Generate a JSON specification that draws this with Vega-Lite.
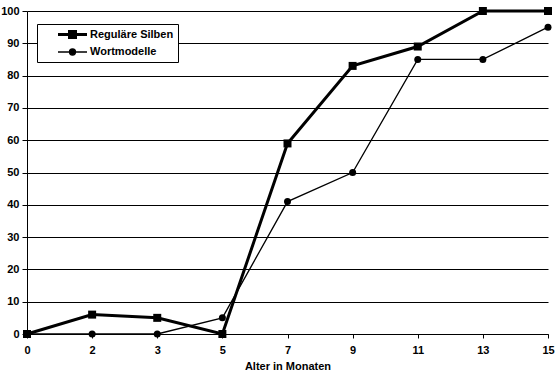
{
  "$schema": "https://vega.github.io/schema/vega-lite/v6.json",
  "width": 521,
  "height": 323,
  "padding": {"left": 0, "top": 5, "right": 4, "bottom": 0},
  "background": "white",
  "config": {
    "view": {"stroke": null},
    "font": "Liberation Sans",
    "axis": {
      "labelFont": "Liberation Sans",
      "labelFontWeight": "bold",
      "labelFontSize": 11,
      "labelColor": "black",
      "titleFont": "Liberation Sans",
      "titleFontWeight": "bold",
      "titleFontSize": 11,
      "titleColor": "black",
      "domainColor": "black",
      "tickColor": "black",
      "gridColor": "black",
      "gridOpacity": 1,
      "gridWidth": 1
    }
  },
  "data": {
    "values": [
      {"alter": 0, "series": "Reguläre Silben", "wert": 0},
      {"alter": 2, "series": "Reguläre Silben", "wert": 6},
      {"alter": 3, "series": "Reguläre Silben", "wert": 5},
      {"alter": 5, "series": "Reguläre Silben", "wert": 0},
      {"alter": 7, "series": "Reguläre Silben", "wert": 59},
      {"alter": 9, "series": "Reguläre Silben", "wert": 83},
      {"alter": 11, "series": "Reguläre Silben", "wert": 89},
      {"alter": 13, "series": "Reguläre Silben", "wert": 100},
      {"alter": 15, "series": "Reguläre Silben", "wert": 100},
      {"alter": 0, "series": "Wortmodelle", "wert": 0},
      {"alter": 2, "series": "Wortmodelle", "wert": 0},
      {"alter": 3, "series": "Wortmodelle", "wert": 0},
      {"alter": 5, "series": "Wortmodelle", "wert": 5},
      {"alter": 7, "series": "Wortmodelle", "wert": 41},
      {"alter": 9, "series": "Wortmodelle", "wert": 50},
      {"alter": 11, "series": "Wortmodelle", "wert": 85},
      {"alter": 13, "series": "Wortmodelle", "wert": 85},
      {"alter": 15, "series": "Wortmodelle", "wert": 95}
    ]
  },
  "encoding": {
    "x": {
      "field": "alter",
      "type": "ordinal",
      "scale": {"type": "point", "padding": 0},
      "axis": {"title": "Alter in Monaten", "labelAngle": 0, "grid": false, "tickSize": 4, "labelPadding": 6, "titlePadding": 5}
    },
    "y": {
      "field": "wert",
      "type": "quantitative",
      "scale": {"domain": [0, 100], "nice": false},
      "axis": {"title": null, "values": [0, 10, 20, 30, 40, 50, 60, 70, 80, 90, 100], "grid": true, "tickSize": 5, "labelPadding": 3}
    }
  },
  "layer": [
    {
      "mark": {"type": "line", "color": "black"},
      "encoding": {
        "detail": {"field": "series"},
        "strokeWidth": {
          "field": "series",
          "type": "nominal",
          "scale": {"domain": ["Reguläre Silben", "Wortmodelle"], "range": [3, 1.3]},
          "legend": null
        }
      }
    },
    {
      "mark": {"type": "point", "filled": true, "color": "black", "opacity": 1},
      "encoding": {
        "shape": {
          "field": "series",
          "type": "nominal",
          "scale": {"domain": ["Reguläre Silben", "Wortmodelle"], "range": ["square", "circle"]},
          "legend": null
        },
        "size": {
          "field": "series",
          "type": "nominal",
          "scale": {"domain": ["Reguläre Silben", "Wortmodelle"], "range": [64, 49]},
          "legend": null
        }
      }
    },
    {
      "transform": [{"filter": "false"}],
      "mark": {"type": "point", "filled": true, "fill": "black", "stroke": "black", "opacity": 1, "size": 100},
      "encoding": {
        "strokeWidth": {
          "field": "series",
          "type": "nominal",
          "scale": {"domain": ["Reguläre Silben", "Wortmodelle"], "range": [3, 1.3]},
          "legend": {
            "title": null,
            "orient": "none",
            "legendX": 10,
            "legendY": 13,
            "direction": "vertical",
            "strokeColor": "black",
            "fillColor": "white",
            "padding": 4,
            "symbolOffset": 25,
            "symbolSize": 100,
            "labelFont": "Liberation Sans",
            "labelFontWeight": "bold",
            "labelFontSize": 11,
            "labelColor": "black",
            "labelOffset": 11,
            "rowPadding": 2
          }
        },
        "shape": {
          "field": "series",
          "type": "nominal",
          "scale": {
            "domain": ["Reguläre Silben", "Wortmodelle"],
            "range": [
              "M-2.9,0H2.9M-0.6,-0.6H0.6V0.6H-0.6Z",
              "M-2.9,0H2.9M-0.6,0A0.6,0.6,0,1,1,0.6,0A0.6,0.6,0,1,1,-0.6,0Z"
            ]
          },
          "legend": {
            "title": null,
            "orient": "none",
            "legendX": 10,
            "legendY": 13,
            "direction": "vertical",
            "strokeColor": "black",
            "fillColor": "white",
            "padding": 4,
            "symbolOffset": 25,
            "symbolSize": 100,
            "labelFont": "Liberation Sans",
            "labelFontWeight": "bold",
            "labelFontSize": 11,
            "labelColor": "black",
            "labelOffset": 11,
            "rowPadding": 2
          }
        }
      }
    }
  ],
  "resolve": {"scale": {"shape": "independent", "size": "independent", "strokeWidth": "independent"}}
}
